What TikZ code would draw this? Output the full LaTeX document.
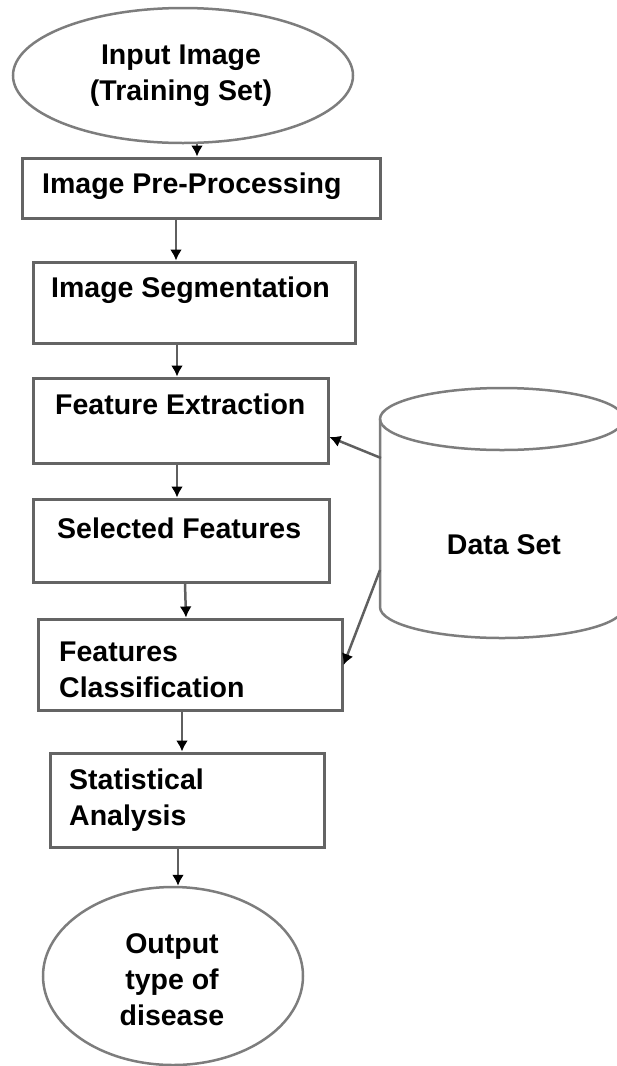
\documentclass[tikz,border=0pt]{standalone}
\usepackage{fontspec}
\setmainfont{Liberation Sans}
\usetikzlibrary{shapes.geometric,arrows.meta}
\definecolor{edgegray}{RGB}{100,100,100}
\definecolor{ovalgray}{RGB}{125,125,125}
\definecolor{linegray}{RGB}{95,95,95}
\tikzset{
  box/.style={draw=edgegray, line width=3pt, rectangle, inner sep=0pt},
  oval/.style={draw=ovalgray, line width=2.5pt, ellipse, inner sep=0pt},
  lbl/.style={font=\bfseries\fontsize{28.5}{36}\selectfont, inner sep=0pt, anchor=west, align=left},
  clbl/.style={font=\bfseries\fontsize{28.5}{36}\selectfont, inner sep=0pt, align=center},
  conn/.style={draw=linegray, line width=2.5pt, -{Latex[length=11pt,width=12pt,color=black]}},
  cyl/.style={draw=ovalgray, line width=2.5pt}
}
\begin{document}
\begin{tikzpicture}[x=1pt,y=-1pt]
\useasboundingbox (0,0) rectangle (617,1066);
% shapes
\node[oval, minimum width=340pt, minimum height=135pt] (input) at (183,75.5) {};
\node[box, minimum width=358pt, minimum height=60pt] (pre) at (201,188) {};
\node[box, minimum width=322pt, minimum height=81pt] (seg) at (194,302.5) {};
\node[box, minimum width=295pt, minimum height=85pt] (fext) at (180.5,420.5) {};
\node[box, minimum width=296pt, minimum height=83pt] (sel) at (181,540.5) {};
\node[box, minimum width=304pt, minimum height=91pt] (fcls) at (190,664.5) {};
\node[box, minimum width=274pt, minimum height=94pt] (stat) at (187,800) {};
\node[oval, minimum width=260pt, minimum height=178pt] (output) at (173,976) {};
% cylinder
\draw[cyl] (502,419) ellipse [x radius=122pt, y radius=31pt];
\draw[cyl] (380,419) -- (380,607) arc [start angle=180, end angle=360, x radius=122pt, y radius=31pt] -- (624,419);
\coordinate (dsA) at (381,458);
\coordinate (dsB) at (380,570);
% texts
\node[clbl] (tinput) at (181,76) {Input Image\\(Training Set)};
\node[lbl] (tpre) at (42,186) {Image Pre-Processing};
\node[lbl] (tseg) at (51,290) {Image Segmentation};
\node[lbl] (tfext) at (55,404) {Feature Extraction};
\node[lbl] (tsel) at (57,528) {Selected Features};
\node[lbl] (tfcls) at (59,670) {Features\\Classification};
\node[lbl] (tstat) at (69,800) {Statistical\\Analysis};
\node[clbl] (tds) at (504,545) {Data Set};
\node[clbl] (tout) at (172,980) {Output\\type of\\disease};
% connectors
\draw[conn] (input.south -| 197,0) -- (pre.north -| 197,0);
\draw[conn] (pre.south -| 176,0) -- (seg.north -| 176,0);
\draw[conn] (seg.south -| 177,0) -- (fext.north -| 177,0);
\draw[conn] (fext.south -| 177,0) -- (sel.north -| 177,0);
\draw[conn] (sel.south -| 185,0) -- (fcls.north -| 186,0);
\draw[conn] (fcls.south -| 182,0) -- (stat.north -| 182,0);
\draw[conn] (stat.south -| 178,0) -- (output.north -| 178,0);
\draw[conn] (dsA) -- (fext.east |- 0,437);
\draw[conn] (dsB) -- (fcls.east |- 0,665);
\end{tikzpicture}
\end{document}
